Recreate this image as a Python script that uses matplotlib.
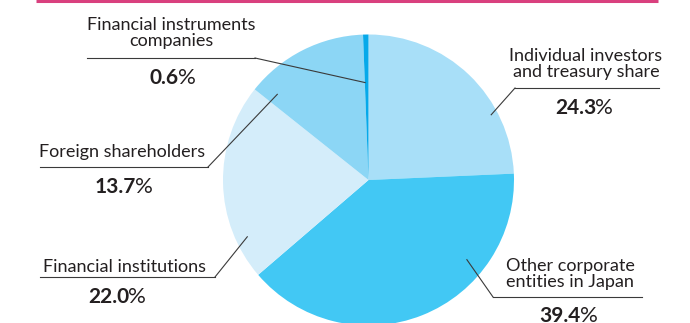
import matplotlib
matplotlib.use("Agg")
import matplotlib.pyplot as plt
import numpy as np

# ---- data (clockwise from 12 o'clock) ----
categories = ["Individual investors\nand treasury share",
              "Other corporate\nentities in Japan",
              "Financial institutions",
              "Foreign shareholders",
              "Financial instruments\ncompanies"]
shares = [24.3, 39.4, 22.0, 13.7, 0.6]
pct_labels = ["24.3", "39.4", "22.0", "13.7", "0.6"]

# ---- style ----
colors = ["#a8dff8", "#42c8f4", "#d4edfa", "#8cd6f5", "#05a9ea"]
TXT = "#231f20"
LINE = "#3a3a3a"
plt.rcParams['font.family'] = ['Lato', 'DejaVu Sans']

W, H = 690, 323
fig = plt.figure(figsize=(W / 100, H / 100), dpi=100)
ax = fig.add_axes([0, 0, 1, 1])

cx, cy, R = 368.5, H - 180, 145.5
wedges, _ = ax.pie(shares, colors=colors, startangle=90, counterclock=False,
                   center=(cx, cy), radius=R,
                   wedgeprops=dict(linewidth=0))
ax.set_xlim(0, W)
ax.set_ylim(0, H)
ax.set_aspect('equal')
ax.axis('off')

# pink rule at top
ax.plot([36, 658], [H - 1, H - 1], color="#d9407e", lw=2.2, solid_capstyle='butt')

def Y(y):
    return H - y

# layout per category: label center (x, y img), underline (x0, x1, y img),
# elbow end x, anchor (angle deg, radius fraction), pct number right x, pct y
layout = [
    dict(lx=586, ly=64, u0=515, u1=659, uy=88, elbow=515, ang=28, rf=0.955, px=596, py=108),
    dict(lx=570, ly=273.5, u0=493, u1=642, uy=297, elbow=493, ang=-39, rf=0.87, px=581, py=316),
    dict(lx=124.5, ly=266.5, u0=40, u1=215, uy=277, elbow=215, ang=-154.9, rf=0.92, px=129, py=297),
    dict(lx=122.5, ly=152.5, u0=40, u1=208, uy=167, elbow=208, ang=136.8, rf=0.86, px=136, py=187),
    dict(lx=171, ly=33, u0=87, u1=255, uy=58, elbow=255, ang=92.0, rf=0.67, px=179, py=78),
]

for cat, num, L in zip(categories, pct_labels, layout):
    ax.text(L['lx'], Y(L['ly']), cat, ha='center', va='center', fontsize=13,
            color=TXT, linespacing=1.0)
    ax.plot([L['u0'], L['u1']], [Y(L['uy']), Y(L['uy'])], color=LINE, lw=0.8)
    a = np.deg2rad(L['ang'])
    axp = cx + R * L['rf'] * np.cos(a)
    ayp = cy + R * L['rf'] * np.sin(a)
    ax.plot([L['elbow'], axp], [Y(L['uy']), ayp], color=LINE, lw=0.8)
    t = ax.text(L['px'], Y(L['py']), num, ha='right', va='center', fontsize=15,
                fontweight='bold', color=TXT)
    ax.annotate('%', xy=(1, 0.5), xycoords=t, xytext=(-0.5, 0), textcoords='offset points',
                ha='left', va='center', fontsize=16, color=TXT)

fig.savefig("out.png", dpi=100)
